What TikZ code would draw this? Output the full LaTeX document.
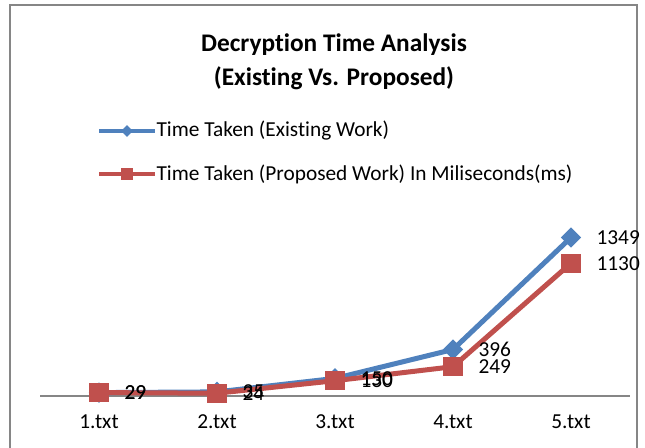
\documentclass[tikz,border=0pt]{standalone}
\usepackage{fontspec}
\setmainfont[Ligatures=NoCommon]{Carlito}
\usetikzlibrary{shapes.geometric}
\definecolor{existblue}{HTML}{4F81BD}
\definecolor{propred}{HTML}{C0504D}
\definecolor{framegray}{HTML}{868686}
\tikzset{
  existline/.style={existblue, line width=3.75pt, line join=round},
  propline/.style={propred, line width=3.75pt, line join=round},
  bluemark/.style={diamond, fill=existblue, inner sep=0pt, minimum size=15.5pt},
  redmark/.style={rectangle, fill=propred, inner sep=0pt, minimum size=14.5pt},
  titletext/.style={font=\fontsize{19}{22}\selectfont\bfseries, inner sep=0pt},
  legendtext/.style={font=\fontsize{16}{19}\selectfont, inner sep=1pt, anchor=west},
  cattext/.style={font=\fontsize{16}{19}\selectfont, inner sep=0pt},
  valtext/.style={font=\fontsize{16}{19}\selectfont, inner sep=0pt, anchor=west, xshift=19pt},
  axisline/.style={framegray, line width=1.1pt}
}
\begin{document}
\begin{tikzpicture}[x=0.75pt,y=-0.75pt]
\useasboundingbox (0,0) rectangle (645,448);
% frame of the chart area
\draw[framegray, line width=1pt] (10,448) -- (10,5) -- (637,5) -- (637,448);
% title
\node[titletext] (title1) at (334,45) {Decryption Time Analysis};
\node[titletext] (title2) at (334,78) {(Existing Vs. Proposed)};
% legend
\coordinate (lbA) at (99,131);
\coordinate (lbB) at (155,131);
\draw[existline, line width=3pt] (lbA) -- (lbB);
\node[bluemark, minimum size=9pt] (lbm) at (127,131) {};
\node[legendtext] (lbt) at (lbB) {Time Taken (Existing Work)};
\coordinate (lrA) at (99,174);
\coordinate (lrB) at (155,174);
\draw[propline, line width=3pt] (lrA) -- (lrB);
\node[redmark, minimum size=9pt] (lrm) at (127,174) {};
\node[legendtext] (lrt) at (lrB) {Time Taken (Proposed Work) In Miliseconds(ms)};
% category axis
\coordinate (axL) at (40,396);
\coordinate (axR) at (630,396);
\draw[axisline] (axL) -- (axR);
\node[cattext] (c1) at (99,422) {1.txt};
\node[cattext] (c2) at (217,422) {2.txt};
\node[cattext] (c3) at (335,422) {3.txt};
\node[cattext] (c4) at (453,422) {4.txt};
\node[cattext] (c5) at (571,422) {5.txt};
% existing work
\coordinate (e1) at (99,392.6);
\coordinate (e2) at (217,391.9);
\coordinate (e3) at (335,378.4);
\coordinate (e4) at (453,349.5);
\coordinate (e5) at (571,237.5);
\draw[existline] (e1) -- (e2) -- (e3) -- (e4) -- (e5);
\node[bluemark] (em1) at (e1) {};
\node[bluemark] (em2) at (e2) {};
\node[bluemark] (em3) at (e3) {};
\node[bluemark] (em4) at (e4) {};
\node[bluemark] (em5) at (e5) {};
% proposed work
\coordinate (p1) at (99,392.6);
\coordinate (p2) at (217,393.2);
\coordinate (p3) at (335,380.7);
\coordinate (p4) at (453,366.7);
\coordinate (p5) at (571,263.2);
\draw[propline] (p1) -- (p2) -- (p3) -- (p4) -- (p5);
\node[redmark] (pm1) at (p1) {};
\node[redmark] (pm2) at (p2) {};
\node[redmark] (pm3) at (p3) {};
\node[redmark] (pm4) at (p4) {};
\node[redmark] (pm5) at (p5) {};
% data labels
\node[valtext] (ev1) at (e1) {29};
\node[valtext] (ev2) at (e2) {35};
\node[valtext] (ev3) at (e3) {150};
\node[valtext] (ev4) at (e4) {396};
\node[valtext] (ev5) at (e5) {1349};
\node[valtext] (pv1) at (p1) {29};
\node[valtext] (pv2) at (p2) {24};
\node[valtext] (pv3) at (p3) {130};
\node[valtext] (pv4) at (p4) {249};
\node[valtext] (pv5) at (p5) {1130};
\end{tikzpicture}
\end{document}
